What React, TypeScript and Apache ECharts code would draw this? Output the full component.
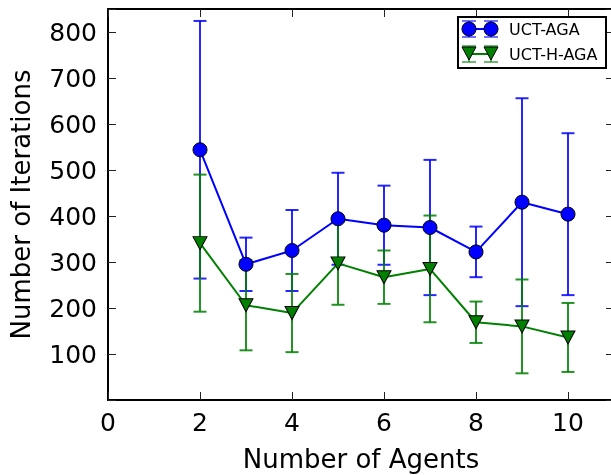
import { useEffect, useRef } from "react";
import * as echarts from "echarts";

const agents = [2, 3, 4, 5, 6, 7, 8, 9, 10];
const agaMean = [544, 295, 325, 394, 380, 375, 322, 430, 404];
const agaStd = [280, 58, 88, 100, 86, 147, 55, 226, 176];
const hagaMean = [341, 206, 189, 297, 267, 285, 169, 160, 136];
const hagaStd = [149, 98, 85, 90, 58, 116, 45, 102, 75];
const seriesNames = ["UCT-AGA", "UCT-H-AGA"];
const seriesColors = ["#0000ff", "#008000"];
const xTitle = "Number of Agents";
const yTitle = "Number of Iterations";

const FONT = "DejaVu Sans";

function errData(mean: number[], std: number[]) {
  return agents.map((a, i) => [a, mean[i] - std[i], mean[i] + std[i]]);
}

function errRender(color: string) {
  return (_params: any, api: any) => {
    const x = api.value(0);
    const pLo = api.coord([x, api.value(1)]);
    const pHi = api.coord([x, api.value(2)]);
    const half = 6.5;
    const style = { stroke: color, lineWidth: 2, opacity: 0.85 };
    return {
      type: "group",
      children: [
        { type: "line", shape: { x1: pLo[0], y1: pLo[1], x2: pHi[0], y2: pHi[1] }, style },
        { type: "line", shape: { x1: pLo[0] - half, y1: pLo[1], x2: pLo[0] + half, y2: pLo[1] }, style },
        { type: "line", shape: { x1: pHi[0] - half, y1: pHi[1], x2: pHi[0] + half, y2: pHi[1] }, style },
      ],
    };
  };
}

export default function App() {
  const ref = useRef<HTMLDivElement>(null);
  useEffect(() => {
    if (!ref.current) return;
    const chart = echarts.init(ref.current, null, { renderer: "svg" });
    const axisLine = { show: true, onZero: false, lineStyle: { color: "#000", width: 2 } };
    const axisTick = { show: true, inside: true, length: 8, lineStyle: { color: "#222", width: 1 } };
    const baseX = { type: "value", min: 0, max: 11, interval: 2, splitLine: { show: false }, axisLine, axisTick };
    const baseY = { type: "value", min: 0, max: 850, interval: 100, splitLine: { show: false }, axisLine, axisTick };

    const legendGroup: any[] = [
      { type: "rect", shape: { x: 458, y: 17, width: 148, height: 51 }, style: { fill: "#fff", stroke: "#000", lineWidth: 2 }, z: 100 },
    ];
    const rows = [29, 54];
    const lx = [469, 491];
    seriesNames.forEach((name, k) => {
      const cy = rows[k];
      const c = seriesColors[k];
      legendGroup.push({ type: "line", shape: { x1: lx[0], y1: cy, x2: lx[1], y2: cy }, style: { stroke: c, lineWidth: 2 }, z: 101 });
      lx.forEach((x) => {
        const es = { stroke: c, lineWidth: 1.6, opacity: 0.7 };
        legendGroup.push({ type: "line", shape: { x1: x, y1: cy - 8, x2: x, y2: cy + 8 }, style: es, z: 101 });
        legendGroup.push({ type: "line", shape: { x1: x - 7, y1: cy - 8, x2: x + 7, y2: cy - 8 }, style: es, z: 101 });
        legendGroup.push({ type: "line", shape: { x1: x - 7, y1: cy + 8, x2: x + 7, y2: cy + 8 }, style: es, z: 101 });
        if (k === 0) {
          legendGroup.push({ type: "circle", shape: { cx: x, cy, r: 7 }, style: { fill: c, stroke: "#000", lineWidth: 1 }, z: 102 });
        } else {
          legendGroup.push({
            type: "polygon",
            shape: { points: [[x - 7, cy - 7], [x + 7, cy - 7], [x, cy + 6]] },
            style: { fill: c, stroke: "#000", lineWidth: 1 },
            z: 102,
          });
        }
      });
      legendGroup.push({
        type: "text",
        x: 509,
        y: cy,
        style: { text: name, fill: "#000", fontSize: 16, fontFamily: FONT, verticalAlign: "middle" },
        z: 103,
      });
    });

    chart.setOption({
      animation: false,
      textStyle: { fontFamily: FONT },
      grid: { left: 108, top: 9, right: -3, bottom: 75, containLabel: false, outerBoundsMode: "none" },
      xAxis: [
        {
          ...baseX,
          position: "bottom",
          name: xTitle,
          nameLocation: "middle",
          nameGap: 46,
          nameTextStyle: { fontSize: 26, color: "#000", fontFamily: FONT },
          axisLabel: {
            fontSize: 25,
            color: "#000",
            margin: 10,
            fontFamily: FONT,
            formatter: (v: number) => (v % 2 === 0 ? String(v) : ""),
          },
        },
        { ...baseX, position: "top", axisLabel: { show: false } },
      ],
      yAxis: [
        {
          ...baseY,
          position: "left",
          name: yTitle,
          nameLocation: "middle",
          nameGap: 74,
          nameTextStyle: { fontSize: 26, color: "#000", fontFamily: FONT },
          axisLabel: {
            fontSize: 25,
            color: "#000",
            margin: 11,
            fontFamily: FONT,
            formatter: (v: number) => (v > 0 && v % 100 === 0 && v <= 800 ? String(v) : ""),
          },
        },
        { ...baseY, position: "right", axisLabel: { show: false } },
      ],
      series: [
        {
          type: "custom",
          name: seriesNames[0] + " err",
          renderItem: errRender(seriesColors[0]),
          data: errData(agaMean, agaStd),
          encode: { x: 0, y: [1, 2] },
          z: 2,
          silent: true,
        },
        {
          type: "custom",
          name: seriesNames[1] + " err",
          renderItem: errRender(seriesColors[1]),
          data: errData(hagaMean, hagaStd),
          encode: { x: 0, y: [1, 2] },
          z: 2,
          silent: true,
        },
        {
          type: "line",
          name: seriesNames[0],
          data: agents.map((a, i) => [a, agaMean[i]]),
          symbol: "circle",
          symbolSize: 14,
          lineStyle: { color: seriesColors[0], width: 2 },
          itemStyle: { color: seriesColors[0], borderColor: "#000", borderWidth: 1 },
          z: 3,
        },
        {
          type: "line",
          name: seriesNames[1],
          data: agents.map((a, i) => [a, hagaMean[i]]),
          symbol: "triangle",
          symbolRotate: 180,
          symbolSize: [14, 13],
          lineStyle: { color: seriesColors[1], width: 2 },
          itemStyle: { color: seriesColors[1], borderColor: "#000", borderWidth: 1 },
          z: 4,
        },
      ],
      graphic: [{ type: "group", children: legendGroup }],
    });
    return () => chart.dispose();
  }, []);
  return <div ref={ref} style={{ position: "fixed", left: 0, top: 0, width: 611, height: 475 }} />;
}
